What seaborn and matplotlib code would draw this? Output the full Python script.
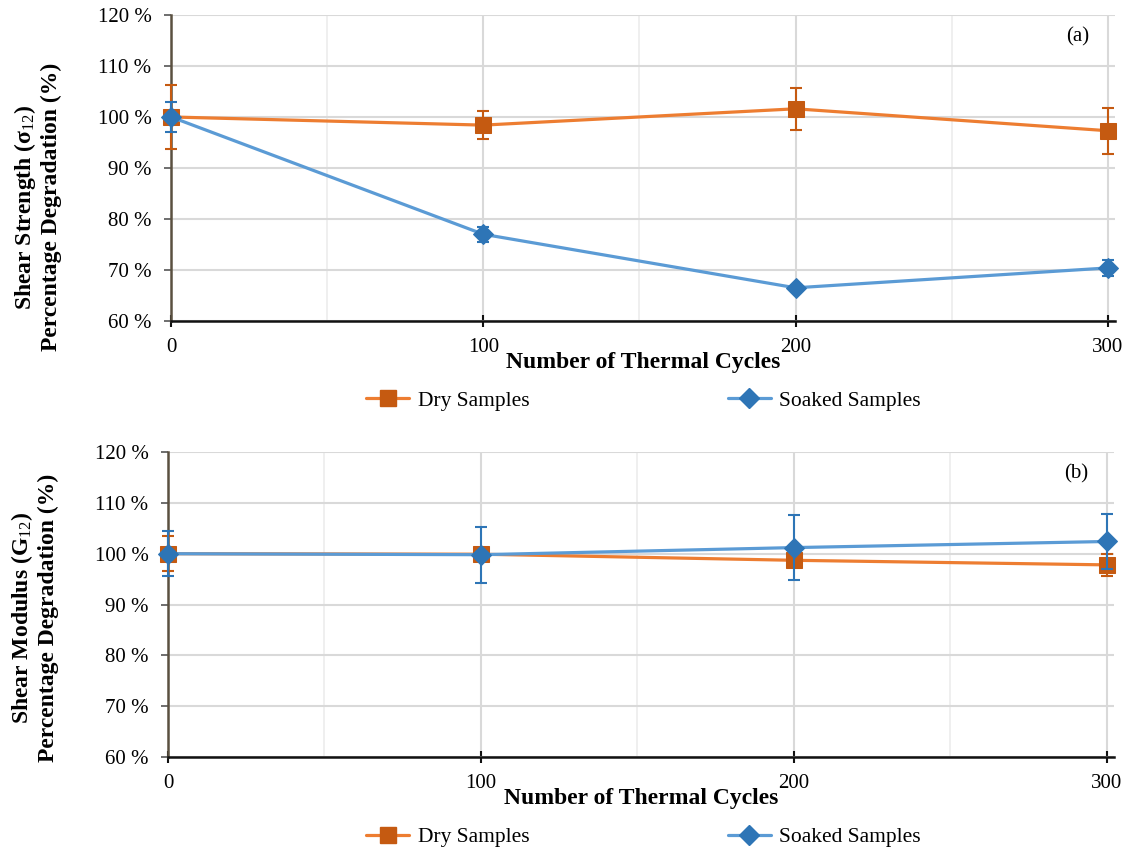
import matplotlib
matplotlib.use("Agg")
import matplotlib.pyplot as plt
from matplotlib.lines import Line2D
from matplotlib.ticker import FixedLocator, FuncFormatter
import seaborn as sns
import pandas as pd

# ---------------- data ----------------
cycles = [0, 100, 200, 300]

strength_dry = [100.0, 98.4, 101.6, 97.3]
strength_dry_err = [6.3, 2.8, 4.1, 4.5]
strength_soaked = [100.0, 77.0, 66.5, 70.4]
strength_soaked_err = [3.0, 1.5, 0.4, 1.5]

modulus_dry = [100.0, 99.9, 98.7, 97.8]
modulus_dry_err = [3.5, 0.5, 0.8, 2.1]
modulus_soaked = [100.0, 99.8, 101.2, 102.4]
modulus_soaked_err = [4.4, 5.5, 6.4, 5.4]

y_ticks = [60, 70, 80, 90, 100, 110, 120]
x_ticks = [0, 100, 200, 300]
x_minor = [50, 150, 250]
series_names = ["Dry Samples", "Soaked Samples"]
x_label = "Number of Thermal Cycles"
y_label_a = "Shear Strength (σ$_{\\mathrm{12}}$)\nPercentage Degradation (%)"
y_label_b = "Shear Modulus (G$_{\\mathrm{12}}$)\nPercentage Degradation (%)"

# ---------------- style ----------------
sns.set_theme(style="white")
plt.rcParams["font.family"] = ["Liberation Serif", "DejaVu Serif"]
plt.rcParams["mathtext.fontset"] = "custom"
plt.rcParams["mathtext.rm"] = "Liberation Serif"
plt.rcParams["mathtext.it"] = "Liberation Serif:italic"
plt.rcParams["mathtext.bf"] = "Liberation Serif:bold"
for key in ["text.color", "axes.labelcolor", "xtick.labelcolor", "ytick.labelcolor"]:
    plt.rcParams[key] = "black"

LINE_DRY, MARK_DRY = "#ED7D31", "#C55A11"
LINE_SOAK, MARK_SOAK = "#5B9BD5", "#2E75B6"
TICK_FS = 15
LABEL_FS = 17
LEG_FS = 15.5
LW = 2.3

fig = plt.figure(figsize=(11.29, 8.5), dpi=100)
ax1 = fig.add_axes([0.1515, 0.6224, 0.8361, 0.3600])
ax2 = fig.add_axes([0.1488, 0.1094, 0.8379, 0.3588])


def draw(ax, dry, dry_err, soaked, soaked_err, ylabel, tag, label_y):
    df_dry = pd.DataFrame({"cycles": cycles, "value": dry})
    df_soak = pd.DataFrame({"cycles": cycles, "value": soaked})

    sns.lineplot(data=df_dry, x="cycles", y="value", ax=ax, color=LINE_DRY,
                 linewidth=LW, marker="s", markersize=12,
                 markerfacecolor=MARK_DRY, markeredgecolor=MARK_DRY,
                 clip_on=False, zorder=3)
    ax.errorbar(cycles, dry, yerr=dry_err, fmt="none", ecolor=MARK_DRY,
                elinewidth=1.5, capsize=4.5, capthick=1.5, clip_on=False, zorder=3)
    sns.lineplot(data=df_soak, x="cycles", y="value", ax=ax, color=LINE_SOAK,
                 linewidth=LW, marker="D", markersize=10,
                 markerfacecolor=MARK_SOAK, markeredgecolor=MARK_SOAK,
                 clip_on=False, zorder=4)
    ax.errorbar(cycles, soaked, yerr=soaked_err, fmt="none", ecolor=MARK_SOAK,
                elinewidth=1.5, capsize=4.5, capthick=1.5, clip_on=False, zorder=4)

    ax.set_xlim(0, 302.3)
    ax.set_ylim(60, 120)
    ax.xaxis.set_major_locator(FixedLocator(x_ticks))
    ax.xaxis.set_minor_locator(FixedLocator(x_minor))
    ax.yaxis.set_major_locator(FixedLocator(y_ticks))
    ax.yaxis.set_major_formatter(FuncFormatter(lambda v, p: f"{int(v)} %"))

    ax.set_axisbelow(True)
    ax.grid(which="major", color="#d9d9d9", linewidth=1.5)
    ax.grid(which="minor", axis="x", color="#eeeeee", linewidth=1.3)

    for s in ["top", "right"]:
        ax.spines[s].set_visible(False)
    ax.spines["left"].set_color("#5a5040")
    ax.spines["left"].set_linewidth(1.8)
    ax.spines["bottom"].set_color("#111111")
    ax.spines["bottom"].set_linewidth(1.8)

    ax.tick_params(axis="x", which="major", direction="inout", length=8,
                   width=1.5, color="#111111", labelsize=TICK_FS, pad=8.5,
                   bottom=True, labelcolor="black")
    ax.tick_params(axis="x", which="minor", length=0)
    ax.tick_params(axis="y", which="major", direction="out", length=5,
                   width=1.2, color="#555555", labelsize=TICK_FS, pad=9,
                   left=True, labelcolor="black")

    ax.set_xlabel(x_label, fontsize=LABEL_FS, fontweight="bold", labelpad=-4,
                  color="black")
    ax.set_ylabel(ylabel, fontsize=LABEL_FS, fontweight="bold",
                  linespacing=1.2, color="black")
    ax.yaxis.set_label_coords(-0.115, label_y)
    ax.text(0.96, 0.928, tag, transform=ax.transAxes, fontsize=TICK_FS,
            ha="center", va="center", color="black")


draw(ax1, strength_dry, strength_dry_err, strength_soaked, strength_soaked_err,
     y_label_a, "(a)", 0.373)
draw(ax2, modulus_dry, modulus_dry_err, modulus_soaked, modulus_soaked_err,
     y_label_b, "(b)", 0.456)

handles = [
    Line2D([], [], color=LINE_DRY, linewidth=LW, marker="s", markersize=12,
           markerfacecolor=MARK_DRY, markeredgecolor=MARK_DRY),
    Line2D([], [], color=LINE_SOAK, linewidth=LW, marker="D", markersize=10,
           markerfacecolor=MARK_SOAK, markeredgecolor=MARK_SOAK),
]
for yc in [1 - 401 / 850, 1 - 837 / 850]:
    leg = fig.legend(handles, series_names, loc="center", bbox_to_anchor=(0.570, yc),
                     ncol=2, frameon=False, fontsize=LEG_FS, handlelength=2.0,
                     handletextpad=0.4, columnspacing=9.2)
    for t in leg.get_texts():
        t.set_color("black")

fig.savefig("out.png", dpi=100)
